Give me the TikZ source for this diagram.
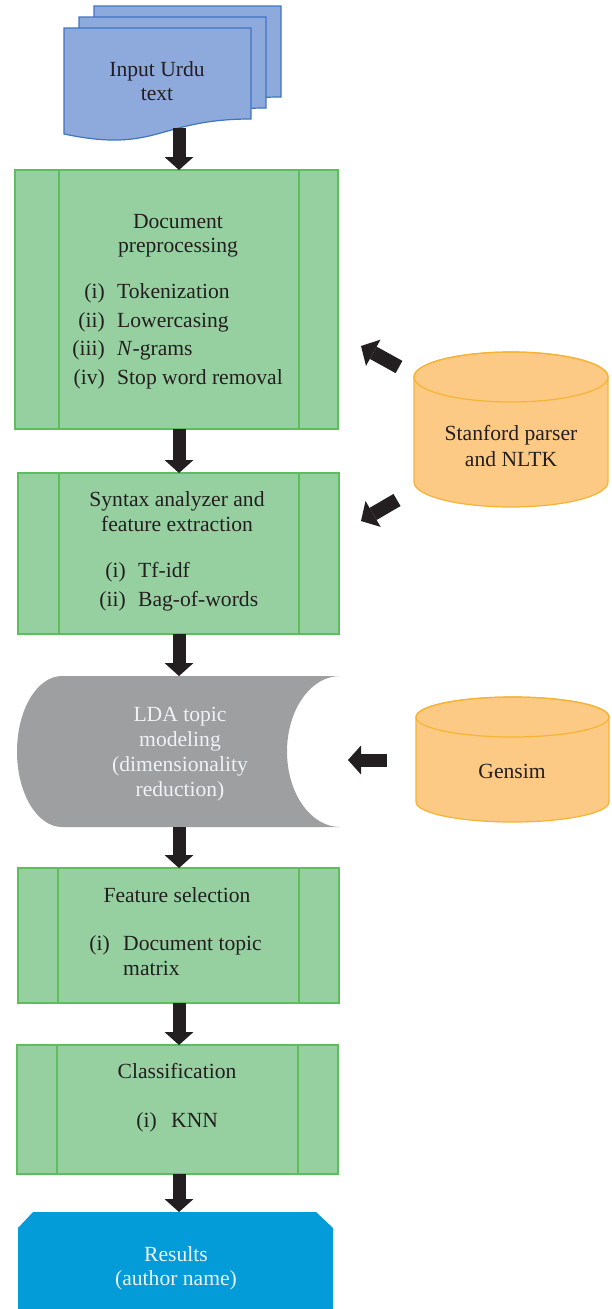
\documentclass[tikz,border=0pt]{standalone}
\usepackage{fontspec}
\setmainfont{Liberation Serif}
\usetikzlibrary{arrows.meta,calc}
\definecolor{gfill}{HTML}{97D0A0}
\definecolor{gline}{HTML}{5CBE5C}
\definecolor{dfill}{HTML}{8EA9DB}
\definecolor{dline}{HTML}{3F75C3}
\definecolor{ofill}{HTML}{FDCA85}
\definecolor{oline}{HTML}{F6B334}
\definecolor{grayfill}{HTML}{9D9FA1}
\definecolor{bfill}{HTML}{049CD8}
\definecolor{ink}{HTML}{231F20}
\definecolor{ltext}{HTML}{EEF2F4}
\begin{document}
\begin{tikzpicture}[x=1pt,y=-1pt,
  txt/.style={font=\fontsize{21.6}{25}\selectfont, text=ink, inner sep=0pt, anchor=base},
  lbl/.style={txt, anchor=base east},
  itm/.style={txt, anchor=base west},
  wtxt/.style={txt, text=ltext},
  gbox/.style={draw=gline, fill=gfill, line width=1.2pt, inner sep=0pt, outer sep=0pt},
  gsep/.style={draw=gline, line width=1.2pt},
  area/.style={inner sep=0pt, outer sep=0pt, draw=none},
  barrow/.style={draw=ink, line width=13pt, -{Triangle[width=29pt,length=13pt,line width=0pt]}},
  sarrow/.style={draw=ink, line width=14pt, -{Triangle[width=30pt,length=14pt,line width=0pt]}},
  docshape/.style={fill=dfill, draw=dline, line width=1.2pt},
  cyl/.style={fill=ofill, draw=oline, line width=1.2pt},
]
\useasboundingbox (0,0) rectangle (611,1309);

% input documents
\path[docshape] (94,6) -- (281,6) -- (281,97) .. controls (187.5,97) and (187.5,131.7) .. (94,112) -- cycle;
\path[docshape] (79,17) -- (266,17) -- (266,108) .. controls (172.5,108) and (172.5,142.7) .. (79,123) -- cycle;
\path[docshape] (64,28) -- (251,28) -- (251,119) .. controls (157.5,119) and (157.5,153.7) .. (64,134) -- cycle;
\node[txt] (doc1) at (157,76) {Input Urdu};
\node[txt] (doc2) at (157,100) {text};
\coordinate (docb) at (179,128);
\coordinate (ax) at (179,0);

% document preprocessing
\node[gbox, minimum width=323pt, minimum height=259pt] (pre) at (176.5,299.5) {};
\draw[gsep] ($(pre.north west)+(44,0)$) -- ($(pre.south west)+(44,0)$);
\draw[gsep] ($(pre.north east)+(-39,0)$) -- ($(pre.south east)+(-39,0)$);
\node[txt] (pret1) at (178,228) {Document};
\node[txt] (pret2) at (178,252) {preprocessing};
\node[lbl] (prel1) at (105,298) {(i)};
\node[itm] (prei1) at (117,298) {Tokenization};
\node[lbl] (prel2) at (105,327) {(ii)};
\node[itm] (prei2) at (117,327) {Lowercasing};
\node[lbl] (prel3) at (105,355) {(iii)};
\node[itm] (prei3) at (117,355) {\textit{N}-grams};
\node[lbl] (prel4) at (105,384) {(iv)};
\node[itm] (prei4) at (117,384) {Stop word removal};

% syntax analyzer
\node[gbox, minimum width=321pt, minimum height=161pt] (syn) at (178.5,553.5) {};
\draw[gsep] ($(syn.north west)+(41,0)$) -- ($(syn.south west)+(41,0)$);
\draw[gsep] ($(syn.north east)+(-40,0)$) -- ($(syn.south east)+(-40,0)$);
\node[txt] (synt1) at (177,506) {Syntax analyzer and};
\node[txt] (synt2) at (177,531) {feature extraction};
\node[lbl] (synl1) at (126,577) {(i)};
\node[itm] (syni1) at (138,577) {Tf-idf};
\node[lbl] (synl2) at (126,606) {(ii)};
\node[itm] (syni2) at (138,606) {Bag-of-words};

% LDA
\node[area, minimum width=323pt, minimum height=151pt] (lda) at (178.5,751.5) {};
\fill[grayfill] (62,676) -- (340,676) arc[start angle=90,end angle=270,x radius=53pt,y radius=75.5pt]
  -- (62,827) arc[start angle=270,end angle=90,x radius=45pt,y radius=75.5pt] -- cycle;
\node[wtxt] (ldat1) at (180,721) {LDA topic};
\node[wtxt] (ldat2) at (180,746) {modeling};
\node[wtxt] (ldat3) at (180,771) {(dimensionality};
\node[wtxt] (ldat4) at (180,796) {reduction)};

% feature selection
\node[gbox, minimum width=321pt, minimum height=135pt] (fs) at (178.5,935.5) {};
\draw[gsep] ($(fs.north west)+(40,0)$) -- ($(fs.south west)+(40,0)$);
\draw[gsep] ($(fs.north east)+(-40,0)$) -- ($(fs.south east)+(-40,0)$);
\node[txt] (fst1) at (177,902) {Feature selection};
\node[lbl] (fsl1) at (110,950) {(i)};
\node[itm] (fsi1) at (123,950) {Document topic};
\node[itm] (fsi2) at (123,975) {matrix};

% classification
\node[gbox, minimum width=321pt, minimum height=129pt] (cls) at (177.5,1109.5) {};
\draw[gsep] ($(cls.north west)+(40,0)$) -- ($(cls.south west)+(40,0)$);
\draw[gsep] ($(cls.north east)+(-40,0)$) -- ($(cls.south east)+(-40,0)$);
\node[txt] (clst1) at (177,1078) {Classification};
\node[lbl] (clsl1) at (157,1127) {(i)};
\node[itm] (clsi1) at (171,1127) {KNN};

% results
\node[area, minimum width=315pt, minimum height=97pt] (res) at (175.5,1260.5) {};
\fill[bfill] (res.south west) -- ($(res.north west)+(0,16)$) -- ($(res.north west)+(15,0)$)
  -- ($(res.north east)+(-17,0)$) -- ($(res.north east)+(0,16)$) -- (res.south east) -- cycle;
\node[wtxt] (rest1) at (176,1261) {Results};
\node[wtxt] (rest2) at (176,1285) {(author name)};

% Stanford cylinder
\path[cyl] (414,377) -- (414,482) arc[start angle=180,end angle=360,x radius=97pt,y radius=25pt]
  -- (608,377) arc[start angle=0,end angle=180,x radius=97pt,y radius=25pt] -- cycle;
\draw[draw=oline, line width=1.2pt] (511,377) ellipse[x radius=97pt, y radius=25pt];
\node[txt] (stan1) at (511,440) {Stanford parser};
\node[txt] (stan2) at (511,466) {and NLTK};

% Gensim cylinder
\path[cyl] (416,717) -- (416,802) arc[start angle=180,end angle=360,x radius=96.5pt,y radius=20pt]
  -- (609,717) arc[start angle=0,end angle=180,x radius=96.5pt,y radius=20pt] -- cycle;
\draw[draw=oline, line width=1.2pt] (512.5,717) ellipse[x radius=96.5pt, y radius=20pt];
\node[txt] (gen) at (512,778) {Gensim};

% vertical arrows
\draw[barrow] (docb) -- (pre.north -| ax);
\draw[barrow] (pre.south -| ax) -- (syn.north -| ax);
\draw[barrow] (syn.south -| ax) -- (lda.north -| ax);
\draw[barrow] (lda.south -| ax) -- (fs.north -| ax);
\draw[barrow] (fs.south -| ax) -- (cls.north -| ax);
\draw[barrow] (cls.south -| ax) -- (res.north -| ax);

% side arrows
\coordinate (s1) at (399,367); \coordinate (e1) at (361,346);
\coordinate (s2) at (397,500); \coordinate (e2) at (361,521);
\coordinate (g1) at (387,760); \coordinate (g2) at (348,760);
\draw[sarrow] (s1) -- (e1);
\draw[sarrow] (s2) -- (e2);
\draw[barrow] (g1) -- (g2);
\end{tikzpicture}
\end{document}
